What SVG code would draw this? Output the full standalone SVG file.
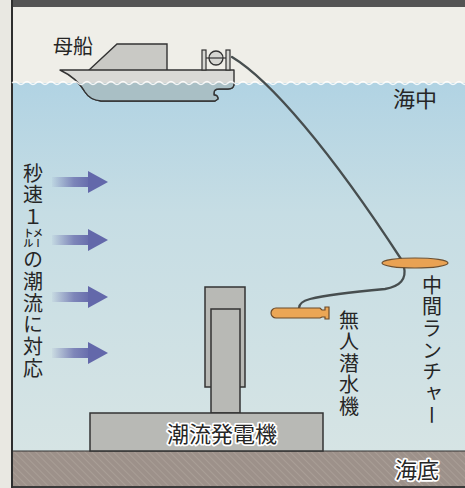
<svg xmlns="http://www.w3.org/2000/svg" width="465" height="488" viewBox="0 0 465 488">
  <style>
    .lbl { font-family: "Noto Sans CJK JP", "Noto Sans", sans-serif; fill: #262626; font-weight: 400; }
    .halo { paint-order: stroke; stroke: #ffffff; stroke-width: 3.5; stroke-linejoin: round; }
    .vert { writing-mode: vertical-rl; text-orientation: mixed; }
    .cable { fill: none; stroke: #474e4f; stroke-width: 2.3; stroke-linecap: round; }
    .machine { fill: #b8b9b5; stroke: #333333; stroke-width: 1.5; }
    .current { fill: url(#flowGrad); }
  </style>
  <defs>
    <linearGradient id="waterGrad" x1="0" y1="0" x2="0" y2="1">
      <stop offset="0" stop-color="#b1d3e3"/>
      <stop offset="0.35" stop-color="#c6dde4"/>
      <stop offset="1" stop-color="#d6e4e4"/>
    </linearGradient>
    <linearGradient id="flowGrad" x1="0" y1="0" x2="1" y2="0">
      <stop offset="0" stop-color="#6a6fae" stop-opacity="0.05"/>
      <stop offset="0.55" stop-color="#6a6fae" stop-opacity="0.8"/>
      <stop offset="1" stop-color="#6368aa"/>
    </linearGradient>
    <pattern id="sedHatch" width="5" height="5" patternUnits="userSpaceOnUse" patternTransform="rotate(-45)">
      <rect width="5" height="5" fill="#9d918a"/>
      <line x1="0" y1="0" x2="0" y2="5" stroke="#b2a79f" stroke-width="1.2"/>
    </pattern>
    <clipPath id="belowSurface">
      <rect x="0" y="83" width="465" height="40"/>
    </clipPath>
    <g id="arrow">
      <rect x="52" y="-5" width="40" height="10" class="current"/>
      <polygon points="88,-11 108,0 88,11" fill="#6368aa"/>
    </g>
  </defs>

  <!-- paper margin and frame -->
  <rect x="0" y="0" width="465" height="488" fill="#e9e8e2"/>
  <rect x="12" y="0" width="453" height="7" fill="#545454"/>

  <!-- sky -->
  <rect x="12" y="7" width="453" height="78" fill="#efeee8"/>

  <!-- sea -->
  <rect x="12" y="83" width="453" height="370" fill="url(#waterGrad)"/>

  <!-- sea bed -->
  <rect id="seabed" x="12" y="451" width="453" height="37" fill="url(#sedHatch)"/>
  <line x1="12" y1="451" x2="465" y2="451" stroke="#333" stroke-width="1.2"/>
  <rect x="12" y="486" width="453" height="2" fill="#3a3a3a"/>
  <rect x="11" y="0" width="2" height="488" fill="#2e2e2e"/>

  <!-- mother ship -->
  <g id="mothership">
    <polygon points="88,71 117,44 167,44 167,71" fill="#c9c9c5" stroke="#333" stroke-width="1.4"/>
    <path d="M60,70 L234,70 L234,84 Q234,89 228,89 L219,89 Q214,89 214,93 L214,95 Q218,95 218,99 L215,101 L101,101 Q90,100 85,92 Q77,78 60,70 Z" fill="#d9d9d6" stroke="#333" stroke-width="1.4" stroke-linejoin="round"/>
    <path d="M60,70 L234,70 L234,84 Q234,89 228,89 L219,89 Q214,89 214,93 L214,95 Q218,95 218,99 L215,101 L101,101 Q90,100 85,92 Q77,78 60,70 Z" fill="#a9bfc5" stroke="#333" stroke-width="1.4" stroke-linejoin="round" clip-path="url(#belowSurface)"/>
    <!-- winch -->
    <rect x="202" y="50" width="4" height="20" fill="#d6d6d2" stroke="#333" stroke-width="1.2"/>
    <rect x="226" y="50" width="4" height="20" fill="#d6d6d2" stroke="#333" stroke-width="1.2"/>
    <line x1="206" y1="58" x2="226" y2="58" stroke="#333" stroke-width="1.2"/>
    <circle cx="216" cy="58" r="7" fill="#d6d6d2" stroke="#333" stroke-width="1.3"/>
    <line x1="209" y1="58" x2="223" y2="58" stroke="#333" stroke-width="1.2"/>
  </g>

  <!-- surface ripple -->
  <path d="M12,83 q3,-3 6,0 t6,0 t6,0 t6,0 t6,0 t6,0 t6,0 t6,0 t6,0 t6,0 t6,0 t6,0 t6,0 t6,0 t6,0 t6,0 t6,0 t6,0 t6,0 t6,0 t6,0 t6,0 t6,0 t6,0 t6,0 t6,0 t6,0 t6,0 t6,0 t6,0 t6,0 t6,0 t6,0 t6,0 t6,0 t6,0 t6,0 t6,0 t6,0 t6,0 t6,0 t6,0 t6,0 t6,0 t6,0 t6,0 t6,0 t6,0 t6,0 t6,0 t6,0 t6,0 t6,0 t6,0 t6,0 t6,0 t6,0 t6,0 t6,0 t6,0 t6,0 t6,0 t6,0 t6,0 t6,0 t6,0 t6,0 t6,0 t6,0 t6,0 t6,0 t6,0 t6,0 t6,0 t6,0 t6,0 t6,0" fill="none" stroke="#ffffff" stroke-width="1.6" opacity="0.85"/>

  <!-- tidal current arrows -->
  <g id="currents">
    <use href="#arrow" transform="translate(0,182)"/>
    <use href="#arrow" transform="translate(0,240)"/>
    <use href="#arrow" transform="translate(0,297)"/>
    <use href="#arrow" transform="translate(0,353)"/>
  </g>

  <!-- tidal power generator -->
  <g id="generator">
    <rect x="205" y="287" width="40" height="100" class="machine"/>
    <rect x="211" y="309" width="29" height="104" class="machine" fill="#bdbeba"/>
    <rect x="90" y="413" width="233" height="38" class="machine"/>
    <text x="222" y="442" font-size="22" text-anchor="middle" class="lbl halo">潮流発電機</text>
  </g>

  <!-- cables -->
  <g id="connectors">
    <path d="M232,57 C270,80 330,150 401,259" class="cable"/>
    <path d="M404,267 Q408,285 385,289 Q330,294 310,299 Q299,302 299,308" class="cable"/>
  </g>

  <!-- intermediate launcher -->
  <g id="launcher">
    <ellipse cx="415" cy="263" rx="33" ry="5" fill="#e9a253" stroke="#6e5030" stroke-width="1.2"/>
  </g>

  <!-- unmanned underwater vehicle -->
  <g id="auv">
    <path d="M276,308 L320,308 L322,310 L325,310 L325,307 L329,307 L329,319 L325,319 L325,317 L322,317 L320,318 L276,318 A5,5 0 0 1 276,308 Z" fill="#eba655" stroke="#6b4a2a" stroke-width="1.2"/>
  </g>

  <!-- labels -->
  <text x="53" y="54" font-size="20" class="lbl">母船</text>
  <text x="393" y="107" font-size="22" class="lbl">海中</text>
  <text x="395" y="478" font-size="22" class="lbl halo">海底</text>
  <text x="33" y="163" font-size="20" letter-spacing="1.7" class="lbl vert">秒速１㍍の潮流に対応</text>
  <text x="349" y="310" font-size="20" letter-spacing="1.6" class="lbl vert">無人潜水機</text>
  <text x="432" y="275" font-size="20" letter-spacing="1.7" class="lbl vert">中間ランチャー</text>
</svg>
